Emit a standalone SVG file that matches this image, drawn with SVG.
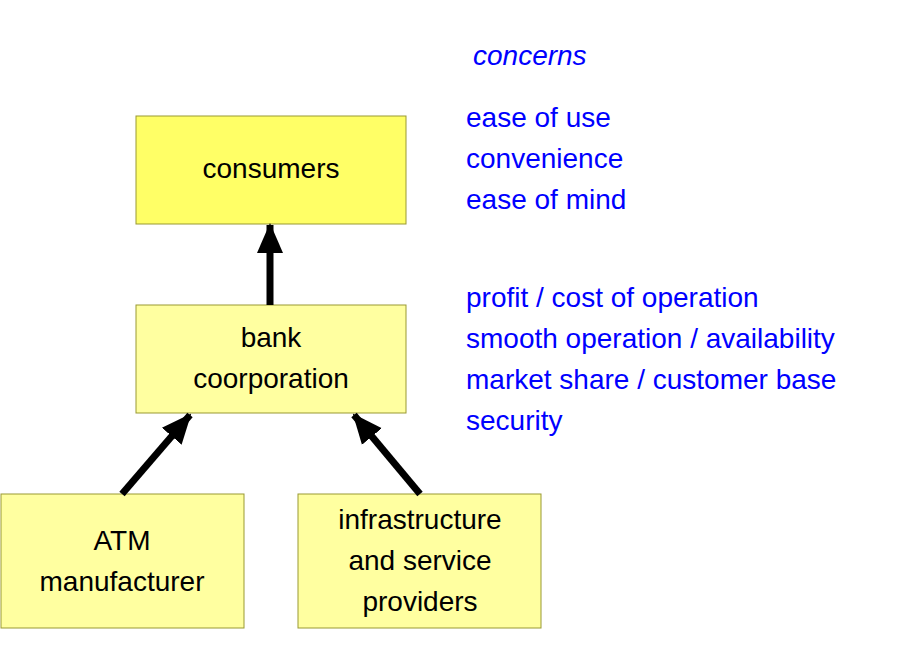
<svg xmlns="http://www.w3.org/2000/svg" width="920" height="660" viewBox="0 0 920 660">
<style>
.box{stroke:#999933;stroke-width:1}
.t{font-family:"Liberation Sans",Arial,sans-serif;font-size:28px;fill:#000;text-anchor:middle}
.b{font-family:"Liberation Sans",Arial,sans-serif;font-size:28px;fill:#0000ff}
.c{stroke:#000;stroke-width:7;fill:none;marker-end:url(#ah)}
</style>
<defs><marker id="ah" markerUnits="userSpaceOnUse" markerWidth="30" markerHeight="30" viewBox="0 0 30 30" refX="28" refY="15" orient="auto"><path d="M0,2 L30,15 L0,28 Z" fill="#000"/></marker></defs>
<rect width="920" height="660" fill="#fff"/>
<g id="consumers"><rect class="box" x="136" y="116" width="270" height="108" fill="#ffff66"/><text class="t" x="271" y="178">consumers</text></g>
<g id="bank"><rect class="box" x="136" y="305" width="270" height="108" fill="#ffffa0"/><text class="t" x="271" y="347">bank</text><text class="t" x="271" y="388">coorporation</text></g>
<g id="atm"><rect class="box" x="1" y="494" width="243" height="134" fill="#ffffa0"/><text class="t" x="122" y="550">ATM</text><text class="t" x="122" y="591">manufacturer</text></g>
<g id="infra"><rect class="box" x="298" y="494" width="243" height="134" fill="#ffffa0"/><text class="t" x="420" y="529">infrastructure</text><text class="t" x="420" y="570">and service</text><text class="t" x="420" y="611">providers</text></g>
<g id="connectors">
<line class="c" x1="270" y1="305" x2="270" y2="225"/>
<line class="c" x1="122" y1="494" x2="190" y2="415"/>
<line class="c" x1="420" y1="494" x2="354" y2="415"/>
</g>
<g id="concerns">
<text class="b" x="473" y="65" font-style="italic">concerns</text>
<text class="b" x="466" y="127">ease of use</text>
<text class="b" x="466" y="168">convenience</text>
<text class="b" x="466" y="209">ease of mind</text>
<text class="b" x="466" y="307">profit / cost of operation</text>
<text class="b" x="466" y="348">smooth operation / availability</text>
<text class="b" x="466" y="389">market share / customer base</text>
<text class="b" x="466" y="430">security</text>
</g>
</svg>
